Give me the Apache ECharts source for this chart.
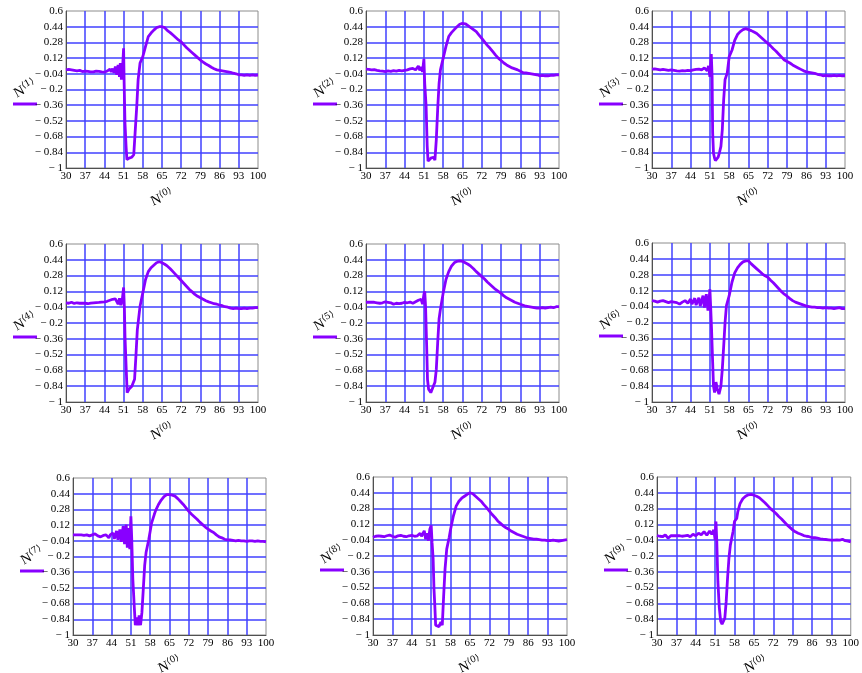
<!DOCTYPE html>
<html>
<head>
<meta charset="utf-8">
<script src="https://cdn.jsdelivr.net/npm/echarts@6/dist/echarts.min.js"></script>
<style>
  html, body { margin: 0; padding: 0; background: #fff; }
  #main { width: 862px; height: 673px; }
</style>
</head>
<body>
<div id="main"></div>
<script>
// tick labels of every panel
var xTicks = [30, 37, 44, 51, 58, 65, 72, 79, 86, 93, 100]
var yTicks = [-1, -0.84, -0.68, -0.52, -0.36, -0.2, -0.04, 0.12, 0.28, 0.44, 0.6]

// panel names N<1> .. N<9>
var names = ['1', '2', '3', '4', '5', '6', '7', '8', '9']

// curves, [x, y]
var n1 = [[30,0.0],[31,0.005],[32,0.0],[33,-0.005],[34,-0.01],[35,-0.005],[36,-0.017],[37,-0.012],[38,-0.015],[39,-0.02],[40,-0.02],[41,-0.012],[42,-0.015],[43,-0.02],[44,-0.024],[45,-0.012],[45.6,-0.02],[46,0.007],[46.5,-0.02],[47,0.013],[47.5,-0.03],[48,0.035],[48.5,-0.05],[49,0.05],[49.5,-0.07],[49.8,0.068],[50.2,-0.1],[50.6,0.0],[51,0.22],[51.2,-0.135],[51.5,-0.54],[51.9,-0.78],[52.2,-0.915],[52.6,-0.93],[53,-0.9],[53.5,-0.91],[54,-0.89],[54.7,-0.865],[55.2,-0.64],[55.8,-0.37],[56.3,-0.1],[57,0.07],[58,0.135],[59,0.24],[60,0.34],[61,0.375],[62,0.405],[63,0.43],[64,0.44],[65,0.44],[66,0.43],[67,0.4],[68,0.38],[69,0.355],[70,0.33],[71,0.305],[72,0.285],[73,0.255],[74,0.225],[75,0.2],[76,0.175],[77,0.15],[78,0.125],[79,0.1],[80,0.08],[81,0.06],[82,0.045],[83,0.027],[84,0.012],[85,0.0],[86,-0.005],[87,-0.01],[88,-0.015],[89,-0.02],[90,-0.025],[91,-0.034],[92,-0.04],[93,-0.05],[94,-0.052],[95,-0.057],[96,-0.05],[97,-0.055],[98,-0.05],[99,-0.055],[100,-0.054]]
var n2 = [[30,0.007],[31,0.005],[32,0.0],[33,0.002],[34,-0.005],[35,-0.01],[36,-0.012],[37,-0.017],[38,-0.01],[39,-0.015],[40,-0.008],[41,-0.012],[42,-0.005],[43,-0.01],[44,-0.005],[45,0.0],[46,0.01],[46.5,-0.005],[47,0.015],[47.5,0.02],[48,0.0],[48.5,0.01],[49,0.04],[49.5,-0.005],[50,0.03],[50.5,-0.02],[51,0.11],[51.3,-0.14],[51.8,-0.37],[52.2,-0.78],[52.5,-0.93],[53,-0.92],[53.5,-0.9],[54,-0.91],[54.5,-0.89],[55,-0.92],[55.5,-0.71],[56,-0.4],[56.5,-0.14],[57,0.0],[58,0.12],[59,0.24],[60,0.34],[61,0.38],[62,0.41],[63,0.44],[64,0.465],[65,0.475],[66,0.47],[67,0.45],[68,0.43],[69,0.41],[70,0.39],[71,0.355],[72,0.32],[73,0.285],[74,0.25],[75,0.22],[76,0.185],[77,0.15],[78,0.12],[79,0.095],[80,0.07],[81,0.05],[82,0.035],[83,0.02],[84,0.01],[85,0.0],[86,-0.015],[87,-0.03],[88,-0.03],[89,-0.035],[90,-0.04],[91,-0.045],[92,-0.05],[93,-0.06],[94,-0.055],[95,-0.06],[96,-0.06],[97,-0.055],[98,-0.055],[99,-0.05],[100,-0.05]]
var n3 = [[30,0.007],[31,0.01],[32,0.005],[33,0.0],[34,0.005],[35,0.0],[36,-0.005],[37,0.0],[38,-0.005],[39,-0.01],[40,-0.012],[41,-0.008],[42,-0.01],[43,-0.005],[44,-0.008],[45,0.0],[46,0.005],[47,0.008],[48,0.0],[48.5,0.015],[49,0.02],[49.5,0.0],[50,-0.01],[50.5,0.04],[51,-0.07],[51.5,0.16],[51.8,-0.07],[52,-0.64],[52.3,-0.85],[52.7,-0.9],[53,-0.925],[53.5,-0.93],[54,-0.89],[54.5,-0.84],[55,-0.78],[55.5,-0.61],[56,-0.3],[56.5,-0.1],[57.3,-0.03],[58,0.135],[59,0.2],[60,0.3],[61,0.36],[62,0.39],[63,0.41],[64,0.42],[65,0.41],[66,0.4],[67,0.385],[68,0.37],[69,0.345],[70,0.32],[71,0.295],[72,0.27],[73,0.245],[74,0.215],[75,0.19],[76,0.16],[77,0.13],[78,0.1],[79,0.085],[80,0.07],[81,0.05],[82,0.035],[83,0.02],[84,0.005],[85,-0.01],[86,-0.02],[87,-0.025],[88,-0.03],[89,-0.035],[90,-0.045],[91,-0.05],[92,-0.06],[93,-0.055],[94,-0.06],[95,-0.06],[96,-0.055],[97,-0.06],[98,-0.055],[99,-0.06],[100,-0.06]]
var n4 = [[30,0.004],[31,0.0],[32,0.01],[33,-0.002],[34,0.005],[35,0.0],[36,0.002],[37,0.0],[38,-0.005],[39,0.002],[40,0.004],[41,0.006],[42,0.008],[43,0.012],[44,0.014],[45,0.02],[46,0.03],[46.5,0.015],[47,0.04],[47.5,0.02],[48,0.045],[48.5,0.055],[49,-0.01],[49.5,0.05],[50,-0.02],[50.5,0.03],[51,0.16],[51.3,-0.06],[51.5,-0.33],[52,-0.7],[52.3,-0.905],[52.7,-0.89],[53,-0.87],[53.5,-0.86],[54,-0.84],[54.5,-0.85],[55,-0.77],[55.5,-0.53],[56,-0.27],[57,-0.03],[58,0.105],[59,0.24],[60,0.32],[61,0.36],[62,0.385],[63,0.41],[64,0.42],[65,0.41],[66,0.395],[67,0.375],[68,0.35],[69,0.32],[70,0.29],[71,0.26],[72,0.23],[73,0.2],[74,0.17],[75,0.14],[76,0.115],[77,0.09],[78,0.07],[79,0.055],[80,0.04],[81,0.025],[82,0.014],[83,0.005],[84,-0.005],[85,-0.01],[86,-0.018],[87,-0.025],[88,-0.035],[89,-0.04],[90,-0.05],[91,-0.055],[92,-0.05],[93,-0.055],[94,-0.055],[95,-0.05],[96,-0.055],[97,-0.05],[98,-0.05],[99,-0.045],[100,-0.045]]
var n5 = [[30,0.01],[31,0.012],[32,0.01],[33,0.01],[34,0.005],[35,0.0],[36,0.005],[37,0.015],[37.5,0.02],[38,0.01],[39,0.005],[40,-0.01],[41,0.0],[42,-0.005],[43,0.0],[44,0.01],[45,0.005],[46,0.012],[47,0.0],[48,0.015],[49,0.03],[50,0.04],[50.5,-0.01],[51,0.09],[51.3,0.12],[51.6,-0.03],[52,-0.43],[52.3,-0.77],[52.7,-0.87],[53.5,-0.905],[54.2,-0.89],[55,-0.8],[55.5,-0.67],[56,-0.4],[56.5,-0.16],[57,-0.06],[58,0.105],[59,0.24],[60,0.32],[61,0.375],[62,0.41],[63,0.425],[64,0.43],[65,0.425],[66,0.41],[67,0.395],[68,0.375],[69,0.35],[70,0.32],[71,0.295],[72,0.27],[73,0.245],[74,0.215],[75,0.19],[76,0.165],[77,0.14],[78,0.12],[79,0.1],[80,0.075],[81,0.055],[82,0.04],[83,0.025],[84,0.01],[85,0.0],[86,-0.01],[87,-0.02],[88,-0.03],[89,-0.035],[90,-0.04],[91,-0.045],[92,-0.05],[93,-0.05],[94,-0.045],[95,-0.05],[96,-0.045],[97,-0.04],[98,-0.045],[99,-0.035],[100,-0.035]]
var n6 = [[30,0.02],[31,0.015],[32,0.005],[33,0.015],[34,0.02],[35,0.01],[36,0.0],[37,0.01],[38,0.005],[39,0.0],[40,-0.015],[41,0.005],[42,0.02],[43,-0.005],[44,0.035],[44.5,-0.015],[45.5,0.045],[46,-0.025],[47,0.05],[47.5,-0.035],[48.5,0.07],[49,-0.05],[49.7,0.085],[50.3,-0.08],[50.7,0.03],[51,0.135],[51.3,-0.06],[51.6,-0.27],[52,-0.6],[52.3,-0.84],[52.7,-0.905],[53.2,-0.8],[53.7,-0.87],[54.3,-0.92],[55,-0.84],[55.5,-0.67],[56,-0.44],[56.5,-0.2],[57,-0.03],[58,0.07],[59,0.205],[60,0.3],[61,0.35],[62,0.385],[63,0.41],[64,0.42],[64.5,0.43],[65,0.42],[66,0.39],[67,0.365],[68,0.34],[69,0.315],[70,0.29],[71,0.27],[72,0.255],[73,0.225],[74,0.2],[75,0.17],[76,0.14],[77,0.11],[78,0.085],[79,0.065],[80,0.04],[81,0.02],[82,0.005],[83,-0.005],[84,-0.015],[85,-0.025],[86,-0.035],[87,-0.04],[88,-0.045],[89,-0.045],[90,-0.05],[91,-0.05],[92,-0.055],[93,-0.05],[94,-0.055],[95,-0.055],[96,-0.06],[97,-0.055],[98,-0.05],[99,-0.06],[100,-0.06]]
var n7 = [[30,0.02],[31,0.02],[32,0.02],[33,0.02],[34,0.015],[35,0.02],[36,0.01],[37,0.02],[38,0.03],[39,0.01],[40,0.0],[41,0.015],[42,0.02],[43,-0.01],[43.5,0.02],[44,0.01],[44.5,0.04],[45,-0.02],[45.8,0.06],[46.3,-0.03],[47,0.075],[47.5,-0.05],[48.2,0.11],[48.7,-0.075],[49.3,0.125],[49.7,-0.11],[50.3,0.09],[50.6,-0.125],[51,0.21],[51.3,-0.02],[51.7,-0.43],[52.2,-0.7],[52.6,-0.9],[53,-0.82],[53.5,-0.9],[54,-0.8],[54.5,-0.9],[55,-0.77],[55.5,-0.53],[56,-0.29],[56.5,-0.16],[57.5,-0.025],[58.5,0.14],[59.5,0.23],[60,0.27],[61,0.33],[62,0.375],[63,0.41],[64,0.43],[65,0.43],[66,0.425],[67,0.415],[68,0.39],[69,0.36],[70,0.33],[71,0.295],[72,0.26],[73,0.23],[74,0.205],[75,0.18],[76,0.15],[77,0.125],[78,0.1],[79,0.08],[80,0.06],[81,0.045],[82,0.02],[83,0.0],[84,-0.01],[85,-0.025],[86,-0.03],[87,-0.03],[88,-0.035],[89,-0.04],[90,-0.035],[91,-0.04],[92,-0.04],[93,-0.045],[94,-0.04],[95,-0.04],[96,-0.045],[97,-0.04],[98,-0.045],[99,-0.045],[100,-0.05]]
var n8 = [[30,-0.01],[31,0.0],[32,0.005],[33,0.0],[34,-0.005],[35,0.005],[36,0.012],[37,0.0],[38,-0.01],[39,0.005],[40,0.01],[41,0.0],[42,-0.005],[43,0.005],[44,0.01],[45,0.0],[46,0.005],[47,0.03],[47.5,0.0],[48,-0.01],[48.5,0.055],[49,-0.03],[49.5,0.03],[50,-0.045],[50.5,0.07],[51,0.11],[51.3,-0.06],[51.7,-0.23],[52,-0.53],[52.3,-0.7],[52.6,-0.9],[53.2,-0.88],[53.8,-0.915],[54.5,-0.87],[55,-0.9],[55.5,-0.6],[56,-0.33],[56.6,-0.13],[57.5,-0.01],[58,0.07],[59,0.205],[60,0.305],[61,0.355],[62,0.385],[63,0.405],[64,0.425],[65,0.44],[65.5,0.445],[66,0.43],[67,0.405],[68,0.38],[69,0.355],[70,0.32],[71,0.29],[72,0.255],[73,0.22],[74,0.19],[75,0.155],[76,0.13],[77,0.105],[78,0.085],[79,0.07],[80,0.05],[81,0.035],[82,0.02],[83,0.01],[84,0.0],[85,-0.01],[86,-0.02],[87,-0.025],[88,-0.03],[89,-0.03],[90,-0.035],[91,-0.04],[92,-0.04],[93,-0.045],[94,-0.045],[95,-0.04],[96,-0.045],[97,-0.05],[98,-0.045],[99,-0.04],[100,-0.035]]
var n9 = [[30,0.007],[31,0.0],[32,-0.005],[33,0.015],[34,-0.02],[35,0.005],[36,0.005],[37,0.005],[38,0.007],[39,0.0],[39.5,-0.01],[40,0.005],[41,0.01],[42,-0.005],[43,0.02],[44,0.005],[45,0.03],[46,0.015],[47,0.047],[48,0.01],[49,0.054],[49.8,0.02],[50.5,0.064],[51,-0.036],[51.3,0.15],[51.6,-0.05],[52,-0.46],[52.5,-0.72],[53,-0.86],[53.5,-0.89],[54,-0.875],[54.5,-0.83],[55,-0.66],[55.5,-0.42],[56,-0.22],[56.5,-0.09],[57.5,0.05],[58,0.15],[58.8,0.18],[59.2,0.25],[60,0.33],[61,0.38],[62,0.405],[63,0.42],[64,0.425],[65,0.415],[66,0.405],[67,0.39],[68,0.365],[69,0.34],[70,0.31],[71,0.28],[72,0.255],[73,0.23],[74,0.2],[75,0.175],[76,0.145],[77,0.115],[78,0.09],[79,0.065],[80,0.045],[81,0.03],[82,0.02],[83,0.007],[84,0.0],[85,-0.005],[86,-0.013],[87,-0.015],[88,-0.02],[89,-0.026],[90,-0.03],[91,-0.033],[92,-0.036],[93,-0.04],[94,-0.04],[95,-0.036],[96,-0.04],[97,-0.03],[98,-0.045],[98.5,-0.036],[99,-0.05],[100,-0.056]]
var curves = [n1, n2, n3, n4, n5, n6, n7, n8, n9]

// plot boxes [left, top, width, height]
var boxes = [
  [66, 11, 192, 157], [366, 11, 193, 157], [652, 11, 193, 157],
  [66, 244, 192, 158], [366, 244, 193, 158], [652, 243, 193, 159],
  [73, 478, 193, 157], [373, 477, 194, 158], [657, 477, 197, 158]
]

var lineColor = '#8800ff'
var gridColor = '#4040ff'
var font = 'Liberation Serif'

function yLabel(v) {
  v = Number(v)
  if (v < 0) return '\u2212 ' + Math.abs(v)
  return String(v)
}

function nameText(k) {
  return '{n|N}{s|\u27e8' + k + '\u27e9}'
}
var nameRich = {
  n: { fontSize: 14, fontFamily: font, color: '#000', lineHeight: 16 },
  s: { fontSize: 9, fontFamily: 'DejaVu Serif', color: '#000', verticalAlign: 'top', lineHeight: 10 }
}

var hidden = {
  axisLine: { show: false },
  axisTick: { show: false },
  axisLabel: { show: false },
  splitLine: { show: false },
  splitArea: { show: false }
}

function chart() {
  var myChart = echarts.init(document.getElementById('main'))
  var grid = [], xAxis = [], yAxis = [], series = [], graphic = []

  for (var i = 0; i < 9; i++) {
    var b = boxes[i]
    grid.push({
      left: b[0], top: b[1], width: b[2], height: b[3],
      show: true, borderColor: '#8c8c8c', borderWidth: 1, backgroundColor: 'transparent'
    })
    // visible axes, just for ticks, labels and grid lines
    xAxis.push({
      gridIndex: i, type: 'category', data: xTicks, boundaryGap: false, position: 'bottom',
      axisLine: { show: true, onZero: false, lineStyle: { color: '#505050', width: 1 } },
      axisTick: { show: false },
      axisLabel: { interval: 0, margin: 3, color: '#000', fontFamily: font, fontSize: 11 },
      splitLine: { show: true, interval: 0, showMinLine: false, showMaxLine: false, lineStyle: { color: gridColor, width: 1.5 } },
      splitArea: { show: false }
    })
    yAxis.push({
      gridIndex: i, type: 'category', data: yTicks, boundaryGap: false, position: 'left',
      axisLine: { show: true, onZero: false, lineStyle: { color: '#505050', width: 1 } },
      axisTick: { show: false },
      axisLabel: { interval: 0, margin: 3, color: '#000', fontFamily: font, fontSize: 11, formatter: yLabel },
      splitLine: { show: true, interval: 0, showMinLine: false, showMaxLine: false, lineStyle: { color: gridColor, width: 1.5 } },
      splitArea: { show: false }
    })
    // hidden value axes that place the curve
    xAxis.push(Object.assign({ gridIndex: i, type: 'value', min: 30, max: 100, position: 'top' }, hidden))
    yAxis.push(Object.assign({ gridIndex: i, type: 'value', min: -1, max: 0.6, position: 'right' }, hidden))

    series.push({
      type: 'line',
      xAxisIndex: 2 * i + 1,
      yAxisIndex: 2 * i + 1,
      data: curves[i],
      showSymbol: false,
      symbol: 'none',
      z: 5,
      lineStyle: { color: lineColor, width: 2.8 }
    })

    // y name N<k> and the legend stroke under it
    graphic.push({
      type: 'text', x: b[0] - 41, y: b[1] + 78, rotation: 0.5,
      style: { text: nameText(names[i]), rich: nameRich, align: 'center', verticalAlign: 'middle' }
    })
    graphic.push({
      type: 'line',
      shape: { x1: b[0] - 53, y1: b[1] + 93, x2: b[0] - 29, y2: b[1] + 93 },
      style: { stroke: lineColor, lineWidth: 3 }
    })
    // x name N<0>
    graphic.push({
      type: 'text', x: b[0] + b[2] / 2, y: b[1] + b[3] + 30, rotation: 0.4,
      style: { text: nameText('0'), rich: nameRich, align: 'center', verticalAlign: 'middle' }
    })
  }

  var option = {
    backgroundColor: '#fff',
    animation: false,
    grid: grid,
    xAxis: xAxis,
    yAxis: yAxis,
    series: series,
    graphic: graphic
  }
  myChart.setOption(option)
}

chart()
</script>
</body>
</html>
